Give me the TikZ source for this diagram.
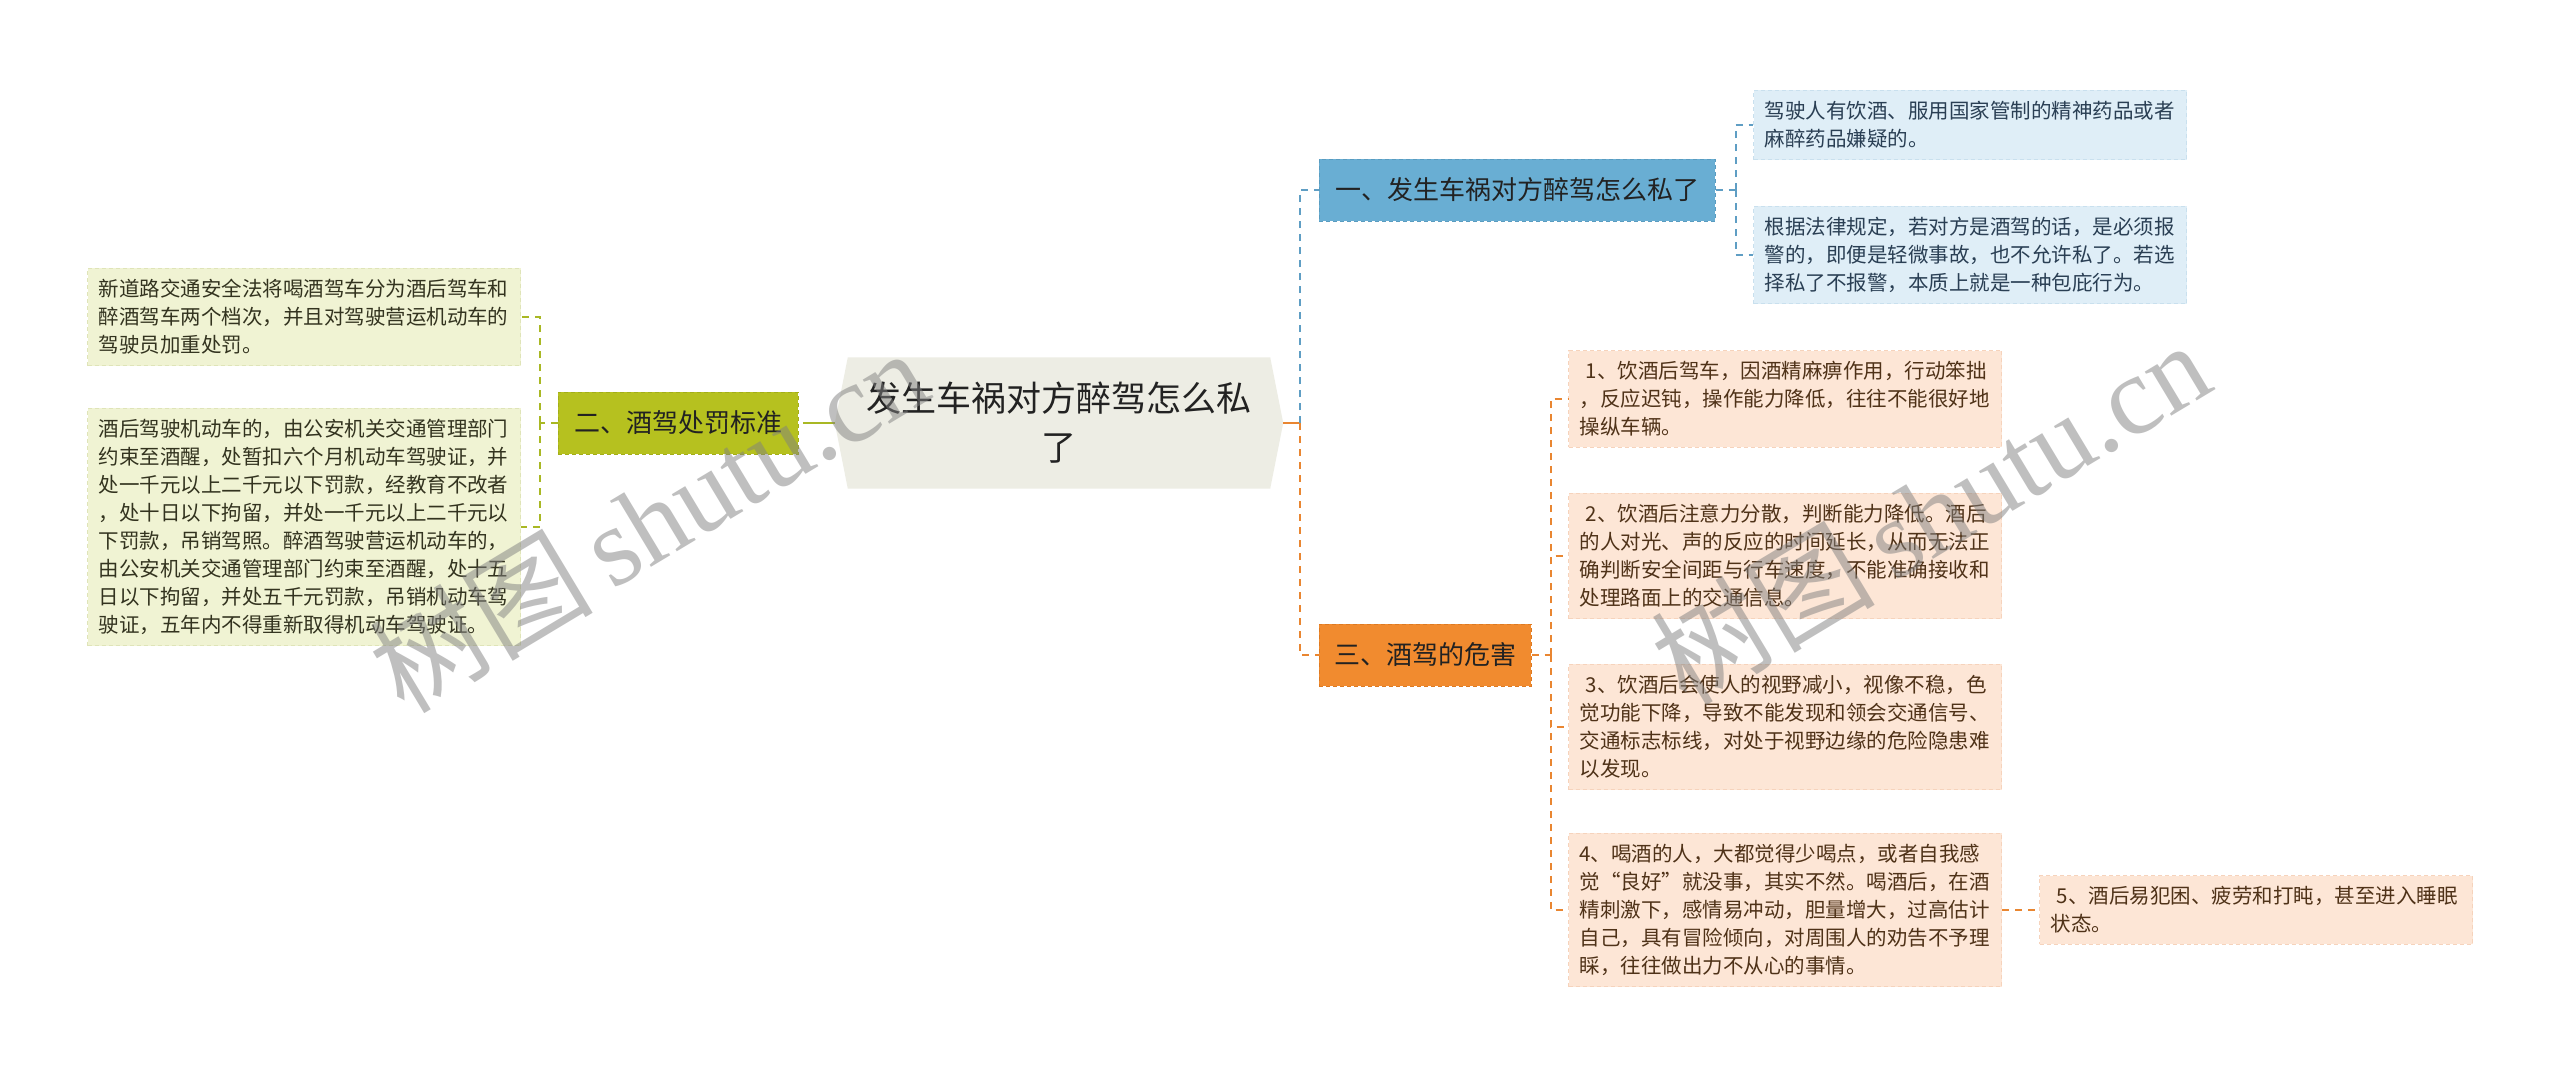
\documentclass[tikz,border=0pt]{standalone}
\usepackage{fontspec}
\setmainfont{Noto Sans CJK SC}
\newfontfamily\wmserif{Liberation Serif}
\usetikzlibrary{backgrounds}
\definecolor{topicfill}{HTML}{EDEDE4}
\definecolor{bluebox}{HTML}{69AED3}
\definecolor{blueboxd}{HTML}{5A9CC0}
\definecolor{blueleaf}{HTML}{DFEEF7}
\definecolor{blueleafd}{HTML}{C9E0EE}
\definecolor{bluetext}{HTML}{2A3F54}
\definecolor{bluecon}{HTML}{5F9EC4}
\definecolor{orangebox}{HTML}{F18B2F}
\definecolor{orangeboxd}{HTML}{DD7A22}
\definecolor{orangeleaf}{HTML}{FDE6D6}
\definecolor{orangeleafd}{HTML}{F6D3BC}
\definecolor{orangetext}{HTML}{4F3218}
\definecolor{orangecon}{HTML}{E98631}
\definecolor{greenbox}{HTML}{B6C11F}
\definecolor{greenboxd}{HTML}{A3AE18}
\definecolor{greenleaf}{HTML}{F0F3D3}
\definecolor{greenleafd}{HTML}{DFE4B8}
\definecolor{greentext}{HTML}{33331F}
\definecolor{greencon}{HTML}{A9B824}
\definecolor{darktext}{HTML}{222222}
\begin{document}
\begin{tikzpicture}[x=1pt,y=-1pt,
  leaf/.style={text width=411pt, align=left, inner xsep=11pt, inner ysep=11pt,
    font=\fontsize{20.5}{28}\selectfont, line width=1pt, dash pattern=on 4pt off 3pt},
  bleafbox/.style={leaf, fill=blueleaf, draw=blueleafd, text=bluetext},
  oleafbox/.style={leaf, fill=orangeleaf, draw=orangeleafd, text=orangetext},
  gleafbox/.style={leaf, fill=greenleaf, draw=greenleafd, text=greentext},
  subbox/.style={font=\fontsize{26}{30}\selectfont, text=darktext, minimum height=62pt,
    inner sep=0pt, line width=1pt, dash pattern=on 4pt off 3pt},
  con/.style={line width=2pt, dash pattern=on 7pt off 6pt},
  stub/.style={line width=2pt},
  wm/.style={font=\fontsize{112}{112}\selectfont, text=black!50, text opacity=0.5}
]
\useasboundingbox (0,0) rectangle (2560,1076);

% central topic
\node[minimum width=448pt, minimum height=131pt, inner sep=0pt, align=center,
  font=\fontsize{35}{49}\selectfont, text=darktext] (topic) at (1059,423)
  {发生车祸对方醉驾怎么私\\了};
\begin{scope}[on background layer]
\fill[white] (0,0) rectangle (2560,1076);
\fill[topicfill] ([xshift=13pt]topic.north west) -- ([xshift=-13pt]topic.north east)
  -- (topic.east) -- ([xshift=-13pt]topic.south east) -- ([xshift=13pt]topic.south west)
  -- (topic.west) -- cycle;
\end{scope}

% main branches
\node[subbox, minimum width=396pt, fill=bluebox, draw=blueboxd] (blue) at (1517,190)
  {一、发生车祸对方醉驾怎么私了};
\node[subbox, minimum width=212pt, fill=orangebox, draw=orangeboxd] (orange) at (1425,655)
  {三、酒驾的危害};
\node[subbox, minimum width=240pt, fill=greenbox, draw=greenboxd] (green) at (678,423)
  {二、酒驾处罚标准};

% blue leaves
\node[bleafbox] (b1) at (1970,125)
  {驾驶人有饮酒、服用国家管制的精神药品或者\\麻醉药品嫌疑的。};
\node[bleafbox] (b2) at (1970,255)
  {根据法律规定，若对方是酒驾的话，是必须报\\警的，即便是轻微事故，也不允许私了。若选\\择私了不报警，本质上就是一种包庇行为。};

% orange leaves
\node[oleafbox] (o1) at (1785,399)
  {\hspace*{0.3em}1、饮酒后驾车，因酒精麻痹作用，行动笨拙\\，反应迟钝，操作能力降低，往往不能很好地\\操纵车辆。};
\node[oleafbox] (o2) at (1785,556)
  {\hspace*{0.3em}2、饮酒后注意力分散，判断能力降低。酒后\\的人对光、声的反应的时间延长，从而无法正\\确判断安全间距与行车速度，不能准确接收和\\处理路面上的交通信息。};
\node[oleafbox] (o3) at (1785,727)
  {\hspace*{0.3em}3、饮酒后会使人的视野减小，视像不稳，色\\觉功能下降，导致不能发现和领会交通信号、\\交通标志标线，对处于视野边缘的危险隐患难\\以发现。};
\node[oleafbox] (o4) at (1785,910)
  {4、喝酒的人，大都觉得少喝点，或者自我感\\觉“良好”就没事，其实不然。喝酒后，在酒\\精刺激下，感情易冲动，胆量增大，过高估计\\自己，具有冒险倾向，对周围人的劝告不予理\\睬，往往做出力不从心的事情。};
\node[oleafbox] (o5) at (2256,910)
  {\hspace*{0.3em}5、酒后易犯困、疲劳和打盹，甚至进入睡眠\\状态。};

% green leaves
\node[gleafbox] (g1) at (304,317)
  {新道路交通安全法将喝酒驾车分为酒后驾车和\\醉酒驾车两个档次，并且对驾驶营运机动车的\\驾驶员加重处罚。};
\node[gleafbox] (g2) at (304,527)
  {酒后驾驶机动车的，由公安机关交通管理部门\\约束至酒醒，处暂扣六个月机动车驾驶证，并\\处一千元以上二千元以下罚款，经教育不改者\\，处十日以下拘留，并处一千元以上二千元以\\下罚款，吊销驾照。醉酒驾驶营运机动车的，\\由公安机关交通管理部门约束至酒醒，处十五\\日以下拘留，并处五千元罚款，吊销机动车驾\\驶证，五年内不得重新取得机动车驾驶证。};

% connectors
\coordinate (rj) at ([xshift=17pt]topic.east);
\coordinate (lj) at ([xshift=-25pt]topic.west);
\draw[stub, orangecon] (topic.east) -- (rj);
\draw[con, bluecon] (rj) |- (blue.west);
\draw[con, orangecon] (rj) |- (orange.west);
\draw[stub, greencon] (topic.west) -- (lj);
\draw[con, greencon] (lj) -- (green.east);

\coordinate (bj) at ([xshift=20pt]blue.east);
\draw[con, bluecon] (blue.east) -- (bj);
\draw[con, bluecon] (bj) |- (b1.west);
\draw[con, bluecon] (bj) |- (b2.west);

\coordinate (oj) at ([xshift=19pt]orange.east);
\draw[con, orangecon] (orange.east) -- (oj);
\draw[con, orangecon] (oj) |- (o1.west);
\draw[con, orangecon] (oj) |- (o2.west);
\draw[con, orangecon] (oj) |- (o3.west);
\draw[con, orangecon] (oj) |- (o4.west);
\draw[con, orangecon] (o4.east) -- (o5.west);

\coordinate (gj) at ([xshift=-18pt]green.west);
\draw[con, greencon] (green.west) -- (gj);
\draw[con, greencon] (gj) |- (g1.east);
\draw[con, greencon] (gj) |- (g2.east);

% watermark
\node[wm, rotate=31] (wm1) at (648,520) {树图\,{\wmserif shutu.cn}};
\node[wm, rotate=31] (wm2) at (1930,512) {树图\,{\wmserif shutu.cn}};
\end{tikzpicture}
\end{document}
